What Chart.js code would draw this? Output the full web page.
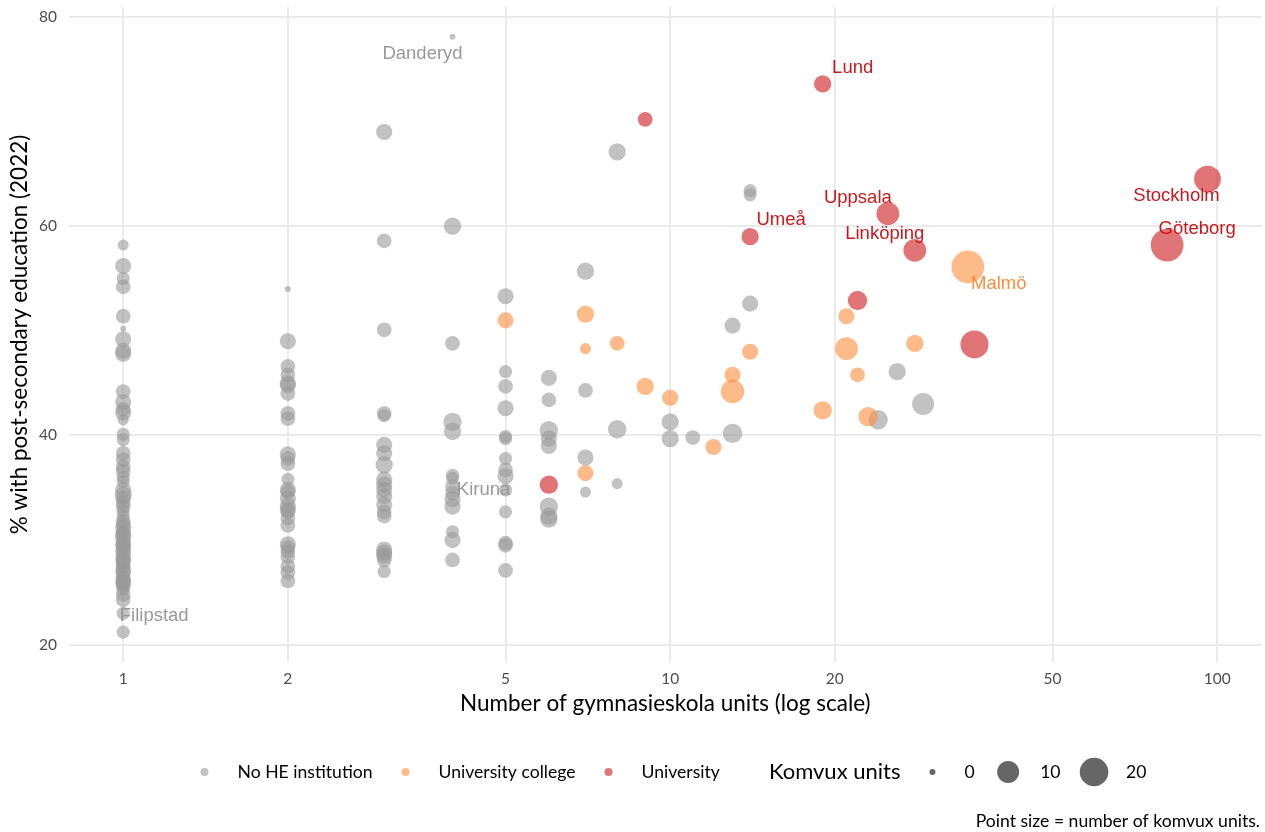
<!DOCTYPE html>
<html>
<head>
<meta charset="utf-8">
<script src="https://cdn.jsdelivr.net/npm/chart.js@4.4.1/dist/chart.umd.min.js"></script>
<style>
  html, body { margin: 0; padding: 0; background: #ffffff; }
  canvas { display: block; }
</style>
</head>
<body>
<canvas id="chart" width="1265" height="832"></canvas>
<script>
// Swedish municipalities: number of gymnasieskola units (x, log scale),
// share of population with post-secondary education in 2022 (y),
// and number of komvux units (point size). Grouped by higher-education presence.

// --- No HE institution (first three entries are labelled) ---
const noHeNames = ['Danderyd', 'Filipstad', 'Kiruna'];
const noHeUnits = [
  4, 1, 5,
  1, 1, 1, 1, 1, 1, 1, 1, 1, 1, 1, 1, 1, 1, 1, 1, 1, 1, 1, 1,
  1, 1, 1, 1, 1, 1, 1, 1, 1, 1, 1, 1, 1, 1, 1, 1, 1, 1, 1, 1,
  1, 1, 1, 1, 1, 1, 1, 1, 1, 1, 1, 1, 1, 1, 1, 1, 1,
  2, 2, 2, 2, 2, 2, 2, 2, 2, 2, 2, 2, 2, 2, 2, 2, 2, 2, 2, 2, 2, 2, 2, 2, 2, 2, 2, 2,
  3, 3, 3, 3, 3, 3, 3, 3, 3, 3, 3, 3, 3, 3, 3, 3, 3, 3, 3, 3,
  4, 4, 4, 4, 4, 4, 4, 4, 4, 4, 4, 4, 4,
  5, 5, 5, 5, 5, 5, 5, 5, 5, 5, 5, 5, 5,
  6, 6, 6, 6, 6, 6, 6, 6,
  7, 7, 7, 7,
  8, 8, 8,
  10, 10, 11, 13, 13, 14, 14, 14, 24, 26, 29
];
const noHeShare = [
  78.1, 21.2, 34.8,
  58.2, 56.2, 55.0, 54.2, 51.4, 50.2, 49.2, 48.1, 47.8, 44.2, 43.2, 42.5, 42.2, 41.5, 40.1, 39.6, 38.3, 37.7, 37.0, 36.6,
  36.0, 35.6, 34.8, 34.3, 34.0, 33.2, 32.3, 31.8, 31.2, 30.8, 30.3, 29.9, 29.6, 29.2, 28.9, 28.6, 28.2, 27.8, 27.5, 27.1,
  26.8, 26.4, 26.0, 25.6, 25.3, 24.8, 24.3, 23.0, 33.6, 32.8, 31.5, 30.5, 29.4, 28.0, 27.3, 26.2, 25.9,
  54.0, 49.0, 46.6, 45.8, 45.0, 44.8, 44.0, 42.1, 41.6, 38.2, 37.8, 37.3, 35.8, 34.8, 34.6, 34.0, 33.3, 32.9, 32.7, 32.1, 31.4, 29.6, 29.3, 28.9, 28.4, 27.5, 26.9, 26.1,
  69.0, 58.6, 50.1, 42.1, 41.9, 39.1, 38.3, 37.2, 35.8, 35.3, 34.8, 34.2, 33.4, 32.7, 32.3, 29.1, 28.8, 28.5, 28.1, 27.0,
  60.0, 48.8, 41.3, 40.4, 36.2, 35.9, 35.1, 34.5, 33.9, 33.2, 30.8, 30.0, 28.1,
  53.3, 46.1, 44.7, 42.6, 39.9, 39.7, 37.8, 36.7, 36.1, 32.7, 29.7, 29.5, 27.1,
  45.5, 43.4, 40.5, 39.7, 39.0, 33.2, 32.3, 32.0,
  55.7, 44.3, 37.9, 34.6,
  67.1, 40.6, 35.4,
  41.3, 39.7, 39.8, 50.5, 40.2, 63.4, 63.0, 52.6, 41.5, 46.1, 43.0
];
const noHeKomvux = [
  0, 2, 2,
  1, 4, 2, 3, 3, 0, 4, 4, 4, 3, 4, 3, 4, 1, 2, 2, 3, 3, 3, 3,
  2, 2, 4, 5, 3, 3, 2, 3, 4, 3, 4, 3, 4, 3, 4, 3, 4, 3, 3, 4,
  3, 3, 4, 3, 2, 3, 3, 2, 3, 2, 3, 4, 3, 3, 2, 3, 3,
  0, 4, 3, 3, 4, 4, 3, 3, 3, 4, 3, 3, 2, 4, 3, 4, 4, 4, 3, 3, 3, 4, 3, 3, 3, 3, 3, 3,
  4, 3, 3, 3, 2, 4, 4, 5, 4, 4, 4, 4, 4, 3, 3, 4, 4, 4, 3, 2,
  5, 3, 6, 5, 2, 2, 3, 3, 4, 4, 2, 4, 3,
  4, 2, 3, 4, 2, 2, 2, 3, 4, 2, 3, 3, 3,
  4, 3, 6, 4, 4, 6, 5, 5,
  5, 3, 4, 1,
  5, 6, 1,
  5, 5, 3, 4, 7, 2, 2, 4, 7, 5, 10
];

// --- University college (first entry labelled) ---
const collegeNames = ['Malmö'];
const collegeUnits  = [35, 5, 7, 7, 7, 8, 9, 10, 12, 13, 13, 14, 19, 21, 21, 22, 23, 28];
const collegeShare  = [56.1, 51.0, 51.6, 48.3, 36.4, 48.8, 44.7, 43.6, 38.9, 45.8, 44.2, 48.0, 42.4, 51.4, 48.3, 45.8, 41.8, 48.8];
const collegeKomvux = [28, 4, 5, 1, 4, 3, 5, 4, 4, 4, 12, 4, 6, 4, 11, 3, 7, 5];

// --- University (first six entries labelled) ---
const uniNames  = ['Stockholm', 'Göteborg', 'Uppsala', 'Linköping', 'Lund', 'Umeå'];
const uniUnits  = [96, 81, 25, 28, 19, 14, 9, 6, 22, 36];
const uniShare  = [64.5, 58.2, 61.2, 57.7, 73.6, 59.0, 70.2, 35.3, 52.9, 48.7];
const uniKomvux = [17, 28, 11, 11, 5, 5, 3, 6, 7, 19];

// --- Axis ticks ---
const xTickValues = [1, 2, 5, 10, 20, 50, 100];
const xTickLabels = ['1', '2', '5', '10', '20', '50', '100'];
const yTickValues = [20, 40, 60, 80];
const yTickLabels = ['20', '40', '60', '80'];

// --- Legend entries ---
const groupLabels = ['No HE institution', 'University college', 'University'];
const sizeBreaks = [0, 10, 20];
const sizeTitle = 'Komvux units';
const xTitle = 'Number of gymnasieskola units (log scale)';
const yTitle = '% with post-secondary education (2022)';
const caption = 'Point size = number of komvux units.';

// ---------------- styling ----------------
const ALPHA = 0.6;
const groupColors = ['#999999', '#fd8d3c', '#cb181d'];
const labelColors = ['#999999', '#fd8d3c', '#cb181d'];
function rgba(hex, a) {
  const n = parseInt(hex.slice(1), 16);
  return `rgba(${(n >> 16) & 255},${(n >> 8) & 255},${n & 255},${a})`;
}
// point radius grows with the square root of komvux units
function sizeToRadius(k) { return 3 + 2.53 * Math.sqrt(k); }

const UI_FONT = 'Lato, "Noto Sans", sans-serif';
const LABEL_FONT = '"Liberation Sans", Arial, sans-serif';

// label placement relative to its point, in pixels
const labelOffsets = {
  'Danderyd': [-30, 17], 'Filipstad': [31, -16], 'Kiruna': [-22, 0],
  'Malmö': [31, 17], 'Stockholm': [-31, 17], 'Göteborg': [30, -16],
  'Uppsala': [-30, -16], 'Linköping': [-30, -16], 'Lund': [30, -16], 'Umeå': [31, -17]
};

function points(units, share) {
  return units.map((u, i) => ({ x: u, y: share[i] }));
}

const groups = [
  { names: noHeNames, units: noHeUnits, share: noHeShare, komvux: noHeKomvux },
  { names: collegeNames, units: collegeUnits, share: collegeShare, komvux: collegeKomvux },
  { names: uniNames, units: uniUnits, share: uniShare, komvux: uniKomvux }
];

const datasets = groups.map((g, gi) => ({
  label: groupLabels[gi],
  data: points(g.units, g.share),
  backgroundColor: rgba(groupColors[gi], ALPHA),
  borderWidth: 0,
  pointRadius: ctx => sizeToRadius(g.komvux[ctx.dataIndex]),
  pointHoverRadius: ctx => sizeToRadius(g.komvux[ctx.dataIndex]),
  order: 3 - gi
}));

const overlay = {
  id: 'overlay',
  afterDatasetsDraw(chart) {
    const { ctx, scales: { x, y } } = chart;
    ctx.save();
    ctx.font = `18.5px ${LABEL_FONT}`;
    ctx.textAlign = 'center';
    ctx.textBaseline = 'middle';
    groups.forEach((g, gi) => {
      ctx.fillStyle = labelColors[gi];
      g.names.forEach((name, i) => {
        const off = labelOffsets[name] || [0, 0];
        const px = x.getPixelForValue(g.units[i]);
        const py = y.getPixelForValue(g.share[i]);
        ctx.fillText(name, px + off[0], py + off[1]);
      });
    });
    ctx.restore();
  },
  afterDraw(chart) {
    const { ctx, chartArea } = chart;
    ctx.save();
    ctx.textBaseline = 'middle';

    // axis titles
    ctx.fillStyle = '#000000';
    ctx.font = `22.5px ${UI_FONT}`;
    ctx.textAlign = 'center';
    ctx.fillText(xTitle, (chartArea.left + chartArea.right) / 2, 704);
    ctx.save();
    ctx.translate(20, (chartArea.top + chartArea.bottom) / 2);
    ctx.rotate(-Math.PI / 2);
    ctx.fillText(yTitle, 0, 0);
    ctx.restore();

    // legend row: colour keys, then size keys
    const legendY = 772;
    const labelFont = `17.6px ${UI_FONT}`;
    const titleFont = `22px ${UI_FONT}`;
    const items = [];
    let cur = 0;
    groupLabels.forEach((lab, i) => {
      ctx.font = labelFont;
      items.push({ kind: 'dot', x: cur, r: 4, color: rgba(groupColors[i], ALPHA) });
      const tx = cur + 33;
      const w = ctx.measureText(lab).width;
      items.push({ kind: 'text', x: tx, text: lab, font: labelFont });
      cur = tx + w + (i < groupLabels.length - 1 ? 33 : 0);
    });
    cur += 49;
    ctx.font = titleFont;
    items.push({ kind: 'text', x: cur, text: sizeTitle, font: titleFont });
    cur += ctx.measureText(sizeTitle).width + 32;
    sizeBreaks.forEach((b, i) => {
      ctx.font = labelFont;
      items.push({ kind: 'dot', x: cur, r: sizeToRadius(b), color: 'rgba(0,0,0,0.6)' });
      const tx = cur + 32;
      const s = String(b);
      items.push({ kind: 'text', x: tx, text: s, font: labelFont });
      cur = tx + ctx.measureText(s).width + (i < sizeBreaks.length - 1 ? 33.5 : 0);
    });
    const leftEdge = -4;
    const total = cur - leftEdge;
    const shift = 673.5 - total / 2 - leftEdge;
    items.forEach(it => {
      if (it.kind === 'dot') {
        ctx.fillStyle = it.color;
        ctx.beginPath();
        ctx.arc(it.x + shift, legendY, it.r, 0, Math.PI * 2);
        ctx.fill();
      } else {
        ctx.fillStyle = '#000000';
        ctx.font = it.font;
        ctx.textAlign = 'left';
        ctx.fillText(it.text, it.x + shift, legendY);
      }
    });

    // caption
    ctx.font = `17.6px ${UI_FONT}`;
    ctx.textAlign = 'right';
    ctx.fillStyle = '#000000';
    ctx.fillText(caption, 1260, 821);
    ctx.restore();
  }
};

const gridStyle = { display: true, color: '#ebebeb', lineWidth: 2, drawTicks: false };

// keep the plotting panel fixed: no extra room for tick-label overhang
function noOverhang(s) {
  s.paddingTop = 0; s.paddingBottom = 0; s.paddingLeft = 0; s.paddingRight = 0;
}

new Chart(document.getElementById('chart'), {
  type: 'scatter',
  data: { datasets },
  plugins: [overlay],
  options: {
    responsive: false,
    devicePixelRatio: 1,
    animation: false,
    events: [],
    layout: { autoPadding: false, padding: { top: 7, right: 3.5, left: 0, bottom: 0 } },
    plugins: { legend: { display: false }, tooltip: { enabled: false } },
    scales: {
      x: {
        type: 'logarithmic',
        min: 0.796,
        max: 120.5,
        bounds: 'data',
        grid: gridStyle,
        border: { display: false },
        afterFit: s => { s.height = 170; noOverhang(s); },
        afterBuildTicks: s => { s.ticks = xTickValues.map(v => ({ value: v })); },
        ticks: {
          autoSkip: false,
          maxRotation: 0,
          padding: 8,
          color: '#4d4d4d',
          font: { family: UI_FONT, size: 15.5 },
          callback: v => { const i = xTickValues.indexOf(v); return i >= 0 ? xTickLabels[i] : ''; }
        }
      },
      y: {
        type: 'linear',
        min: 18.35,
        max: 80.95,
        bounds: 'data',
        grid: gridStyle,
        border: { display: false },
        afterFit: s => { s.width = 69; noOverhang(s); },
        afterBuildTicks: s => { s.ticks = yTickValues.map(v => ({ value: v })); },
        ticks: {
          autoSkip: false,
          padding: 12,
          color: '#4d4d4d',
          font: { family: UI_FONT, size: 15.5 },
          callback: v => { const i = yTickValues.indexOf(v); return i >= 0 ? yTickLabels[i] : ''; }
        }
      }
    }
  }
});
</script>
</body>
</html>
